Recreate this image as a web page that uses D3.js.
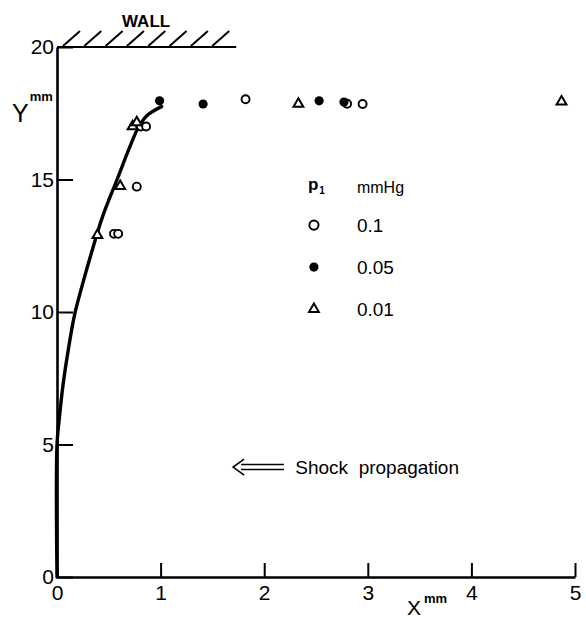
<!DOCTYPE html>
<html>
<head>
  <meta charset="utf-8">
  <title>Shock front shape near the wall</title>
  <script src="https://d3js.org/d3.v7.min.js"></script>
  <style>
    body {
      margin: 0;
      background: #fff;
      font-family: "Liberation Sans", Arial, sans-serif;
    }
    .axis path,
    .axis line {
      stroke: #000;
    }
    .axis text {
      font-family: "Liberation Sans", Arial, sans-serif;
      font-size: 21px;
      fill: #000;
    }
  </style>
</head>
<body>
<svg id="chart" width="586" height="620"></svg>
<script>
  // tick values
  const xTicks = [0, 1, 2, 3, 4, 5];
  const yTicks = [0, 5, 10, 15, 20];

  // p1 = 0.1 mmHg (open circles)
  const openX = [0.55, 0.59, 0.77, 0.81, 0.86, 1.82, 2.80, 2.95];
  const openY = [12.95, 12.95, 14.73, 17.0, 17.0, 18.03, 17.86, 17.85];

  // p1 = 0.05 mmHg (filled circles)
  const filledX = [0.99, 1.41, 2.53, 2.77];
  const filledY = [17.97, 17.85, 17.97, 17.92];

  // p1 = 0.01 mmHg (triangles)
  const triX = [0.39, 0.61, 0.73, 0.77, 2.33, 4.87];
  const triY = [12.9, 14.75, 17.0, 17.15, 17.85, 17.94];

  // hand-drawn curve through the points
  const curveX = [0, 0, 0.02, 0.06, 0.11, 0.17, 0.25, 0.33, 0.44, 0.58, 0.70, 0.79, 0.88, 1.01];
  const curveY = [0, 5.0, 5.9, 7.3, 8.6, 9.9, 11.1, 12.2, 13.6, 15.0, 16.2, 17.0, 17.45, 17.75];

  // legend
  const legendLabels = ["0.1", "0.05", "0.01"];
  const legendKinds = ["open", "filled", "tri"];

  // wall drawn along Y = 20 up to this x
  const wallEnd = 1.73;
  const hatchCount = 8;

  const margin = { top: 47, right: 11, bottom: 43, left: 57 },
        width = 586 - margin.left - margin.right,
        height = 620 - margin.top - margin.bottom;

  const svg = d3.select("#chart")
    .append("g")
    .attr("transform", `translate(${margin.left},${margin.top})`);

  const x = d3.scaleLinear().domain([0, 5]).range([0, width]);
  const y = d3.scaleLinear().domain([0, 20]).range([height, 0]);

  // axes, ticks pointing inside
  const xAxisG = svg.append("g")
    .attr("class", "axis")
    .attr("transform", `translate(0,${height})`)
    .call(d3.axisBottom(x).tickValues(xTicks).tickSize(-14).tickSizeOuter(0).tickPadding(8).tickFormat(d3.format("d")));
  xAxisG.select(".domain").attr("stroke-width", 2.6);
  xAxisG.selectAll(".tick line").attr("stroke-width", 2);

  const yAxisG = svg.append("g")
    .attr("class", "axis")
    .call(d3.axisLeft(y).tickValues(yTicks).tickSize(-16).tickSizeOuter(0).tickPadding(3).tickFormat(d3.format("d")));
  yAxisG.select(".domain").attr("stroke-width", 2.6);
  yAxisG.selectAll(".tick line").attr("stroke-width", 2);
  yAxisG.selectAll(".tick text").attr("font-size", 22);

  // wall with hatching
  svg.append("line")
    .attr("x1", x(0)).attr("x2", x(wallEnd))
    .attr("y1", y(20)).attr("y2", y(20))
    .attr("stroke", "#000").attr("stroke-width", 2.2);

  const hatchStep = (x(wallEnd) - x(0) - 30) / (hatchCount - 1);
  svg.selectAll(".hatch")
    .data(d3.range(hatchCount))
    .enter()
    .append("line")
    .attr("class", "hatch")
    .attr("x1", i => x(0) + 6 + i * hatchStep)
    .attr("y1", y(20) - 1)
    .attr("x2", i => x(0) + 23 + i * hatchStep)
    .attr("y2", y(20) - 16)
    .attr("stroke", "#000")
    .attr("stroke-width", 2);

  svg.append("text")
    .attr("x", x(0.86)).attr("y", y(20) - 20)
    .attr("text-anchor", "middle")
    .attr("font-size", 17).attr("font-weight", "bold")
    .text("WALL");

  // axis titles
  const yTitle = svg.append("text").attr("x", -45).attr("y", 75);
  yTitle.append("tspan").attr("font-size", 25).text("Y");
  yTitle.append("tspan").attr("font-size", 13).attr("font-weight", "bold").attr("dy", -21).attr("dx", 1).text("mm");

  const xTitle = svg.append("text").attr("x", 350).attr("y", height + 38);
  xTitle.append("tspan").attr("font-size", 21).text("X");
  xTitle.append("tspan").attr("font-size", 13).attr("font-weight", "bold").attr("dy", -12).attr("dx", 3).text("mm");

  // curve
  const curvePts = curveX.map((d, i) => [d, curveY[i]]);
  svg.append("path")
    .datum(curvePts)
    .attr("fill", "none")
    .attr("stroke", "#000")
    .attr("stroke-width", 3.4)
    .attr("stroke-linecap", "round")
    .attr("d", d3.line().x(d => x(d[0])).y(d => y(d[1])).curve(d3.curveCatmullRom.alpha(0.5)));

  // markers
  const triSym = d3.symbol().type(d3.symbolTriangle).size(42);

  function drawMarker(g, kind, cx, cy) {
    if (kind === "open") {
      g.append("circle").attr("cx", cx).attr("cy", cy).attr("r", 4)
        .attr("fill", "#fff").attr("stroke", "#000").attr("stroke-width", 1.9);
    } else if (kind === "filled") {
      g.append("circle").attr("cx", cx).attr("cy", cy).attr("r", 4.6)
        .attr("fill", "#000");
    } else {
      g.append("path").attr("d", triSym)
        .attr("transform", `translate(${cx},${cy})`)
        .attr("fill", "#fff").attr("stroke", "#000").attr("stroke-width", 2);
    }
  }

  const marks = svg.append("g");
  openX.forEach((d, i) => drawMarker(marks, "open", x(d), y(openY[i])));
  triX.forEach((d, i) => drawMarker(marks, "tri", x(d), y(triY[i])));
  filledX.forEach((d, i) => drawMarker(marks, "filled", x(d), y(filledY[i])));

  // legend
  const legend = svg.append("g").attr("transform", `translate(${x(2.48)},${y(14.6)})`);
  const head = legend.append("text").attr("x", -6).attr("y", 0)
    .attr("font-size", 17).attr("font-weight", "bold");
  head.append("tspan").text("p");
  head.append("tspan").attr("font-size", 10).attr("dy", 4).attr("dx", 1).text("1");
  legend.append("text").attr("x", 43).attr("y", 3)
    .attr("font-size", 16).text("mmHg");

  legendLabels.forEach((lab, i) => {
    const ly = 35 + i * 42;
    drawMarker(legend, legendKinds[i], 0, ly);
    legend.append("text").attr("x", 43).attr("y", ly + 7)
      .attr("font-size", 19).text(lab);
  });
  legend.selectAll("circle").attr("r", 4.6);

  // shock propagation annotation
  const ax0 = x(1.70), ax1 = x(2.19), ay = y(4.15);
  const arrow = svg.append("g").attr("stroke", "#000").attr("stroke-width", 1.6).attr("fill", "none");
  arrow.append("line").attr("x1", ax0 + 8).attr("x2", ax1).attr("y1", ay - 2.5).attr("y2", ay - 2.5);
  arrow.append("line").attr("x1", ax0 + 8).attr("x2", ax1).attr("y1", ay + 2.5).attr("y2", ay + 2.5);
  arrow.append("path").attr("d", `M${ax0 + 11},${ay - 8} L${ax0},${ay} L${ax0 + 11},${ay + 8}`);

  svg.append("text")
    .attr("x", x(2.30)).attr("y", ay + 7)
    .attr("font-size", 19)
    .attr("xml:space", "preserve")
    .text("Shock  propagation");
</script>
</body>
</html>
